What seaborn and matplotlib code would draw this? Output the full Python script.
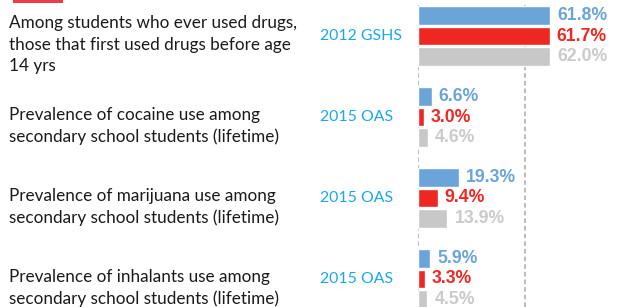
import numpy as np
import pandas as pd
import matplotlib
matplotlib.use("Agg")
import matplotlib.pyplot as plt
import matplotlib.transforms as mtransforms
from matplotlib.patches import Rectangle
import seaborn as sns

# data
indicators = [
    "Among students who ever used drugs,\nthose that first used drugs before age\n14 yrs",
    "Prevalence of cocaine use among\nsecondary school students (lifetime)",
    "Prevalence of marijuana use among\nsecondary school students (lifetime)",
    "Prevalence of inhalants use among\nsecondary school students (lifetime)",
]
sources = ["2012 GSHS", "2015 OAS", "2015 OAS", "2015 OAS"]
series = ["Total", "Male", "Female"]
total = [61.8, 6.6, 19.3, 5.9]
male = [61.7, 3.0, 9.4, 3.3]
female = [62.0, 4.6, 13.9, 4.5]

colors = ["#6AA4D8", "#EE2722", "#C8C8C8"]
label_colors = ["#6AA4D8", "#EE2722", "#CACACA"]

df = pd.DataFrame({
    "item": np.repeat(np.arange(len(indicators)), 3),
    "series": series * len(indicators),
    "value": np.ravel(np.column_stack([total, male, female])),
})
df["item"] = df["item"].astype(str)

sns.set_theme(style="white")
plt.rcParams["font.family"] = ["Lato", "DejaVu Sans"]

W, H = 628, 307
fig = plt.figure(figsize=(W / 100, H / 100), dpi=100)
ax = fig.add_axes([417.7 / W, 0, 214 / W, 302 / H])

sns.barplot(data=df, y="item", x="value", hue="series", hue_order=series,
            palette=colors, orient="h", width=0.76, gap=0.09,
            saturation=1, legend=False, ax=ax, errorbar=None)

ax.set_xlim(0, 100)
ax.set_ylim(3.346, -0.383)
for xv in [0, 50, 100]:
    ax.axvline(xv, color="#A8A8A8", lw=1.1, ls=(0, (3, 2)), zorder=0)
ax.set_xlabel("")
ax.set_ylabel("")
ax.set_xticks([])
ax.set_yticks([])
for s in ax.spines.values():
    s.set_visible(False)

for cont, c in zip(ax.containers, label_colors):
    vals = [b.get_width() for b in cont]
    ax.bar_label(cont, labels=[f"{v:.1f}%" for v in vals], padding=5,
                 color=c, fontweight="bold", fontsize=12.7,
                 family="Liberation Sans")

trans = mtransforms.blended_transform_factory(fig.transFigure, ax.transData)
for i, (txt, src) in enumerate(zip(indicators, sources)):
    ax.text(9 / W, i + 0.11, txt, transform=trans, ha="left", va="center",
            fontsize=12.3, color="#1A1A1A", linespacing=1.42, clip_on=False)
    ax.text(320 / W, i, src, transform=trans, ha="left", va="center",
            fontsize=11.4, color="#1AA6EE", clip_on=False)

# clipped red tab at the top edge
fig.patches.append(Rectangle((13 / W, 1 - 2.5 / H), 50 / W, 3 / H,
                             transform=fig.transFigure, color="#EE3B4A",
                             lw=0))

fig.savefig("out.png", dpi=100)
